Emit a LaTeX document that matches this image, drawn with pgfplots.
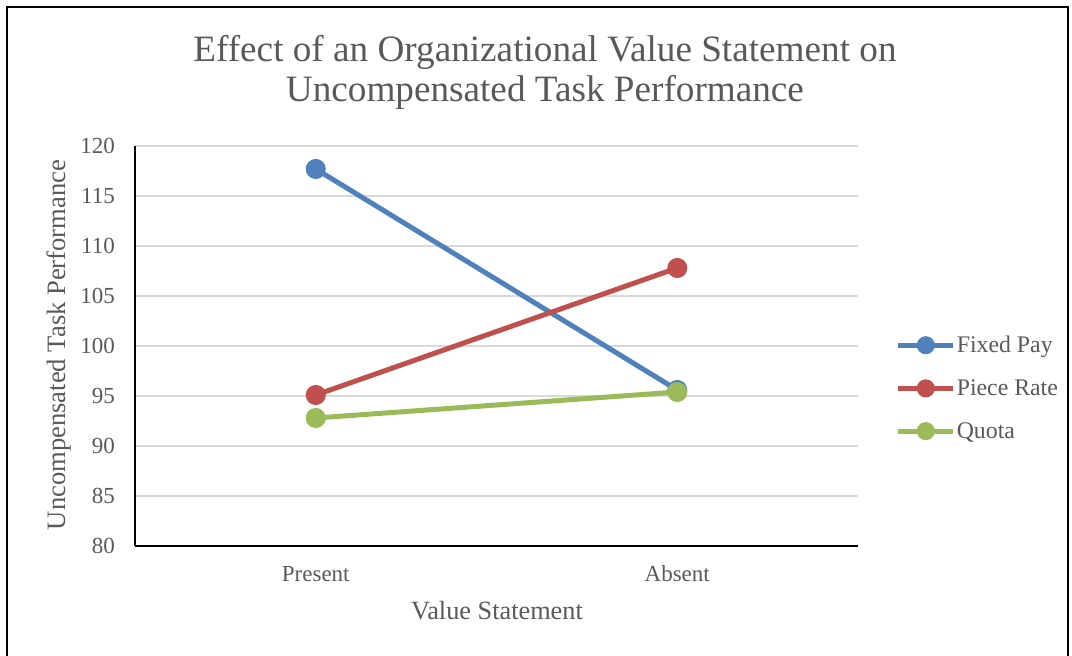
\documentclass[border=0pt]{standalone}
\usepackage{pgfplots}
\pgfplotsset{compat=1.18}
\usepackage{fontspec}
\setmainfont{Liberation Serif}
\definecolor{cblue}{HTML}{4F81BD}
\definecolor{cred}{HTML}{C0504D}
\definecolor{cgreen}{HTML}{9BBB59}
\definecolor{tgray}{HTML}{595959}
\definecolor{ggray}{HTML}{D9D9D9}
\begin{document}
\begin{tikzpicture}[x=1pt,y=1pt]
\useasboundingbox (-135,-110) rectangle (937,546);
\begin{scope}
\clip (-135,-110) rectangle (937,546);
\draw[line width=2pt,black] (-128,-200) rectangle (933,539);
\end{scope}
\begin{axis}[
  at={(0,0)}, anchor=south west,
  scale only axis, width=723pt, height=400pt,
  xmin=-0.5, xmax=1.5, ymin=80, ymax=120,
  xtick={0,1}, xticklabels={Present,Absent},
  ytick={80,85,...,120},
  axis x line*=bottom, axis y line*=left,
  axis line style={black, line width=1.3pt},
  x axis line style={-}, y axis line style={-},
  major tick length=0pt,
  ymajorgrids, grid style={ggray, line width=1.5pt},
  /pgf/number format/assume math mode=true,
  tick label style={font=\fontsize{23}{27}\selectfont, text=tgray},
  yticklabel style={anchor=east, inner sep=0pt, xshift=-20pt},
  xticklabel style={anchor=base, inner sep=0pt, yshift=-36pt},
  xlabel={Value Statement},
  ylabel={Uncompensated Task Performance},
  xlabel style={font=\fontsize{26.3}{30}\selectfont, text=tgray, anchor=base, inner sep=0pt, at={(axis description cs:0.5007,-0.185)}},
  ylabel style={font=\fontsize{26.6}{30}\selectfont, text=tgray, anchor=base, inner sep=0pt, rotate=0, at={(axis description cs:-0.0968,0.5025)}},
  title={Effect of an Organizational Value Statement on\\Uncompensated Task Performance},
  title style={font=\fontsize{37.2}{40}\selectfont, text=tgray, align=center, anchor=north, inner sep=0pt, at={(axis description cs:0.567,1.261)}},
  legend style={draw=none, fill=none, at={(axis description cs:1.052,0.395)}, anchor=west, inner sep=0pt,
    font=\fontsize{23.8}{27}\selectfont, text=tgray, row sep=23.5pt,
    nodes={inner sep=1pt}},
  legend cell align=left,
  legend image code/.code={\draw[#1, mark repeat=2, mark phase=2, mark size=6.5pt] plot coordinates {(0pt,0pt) (27.5pt,0pt) (55pt,0pt)};},
  every axis plot/.append style={line width=5pt, mark=*, mark size=7.5pt, mark options={solid}},
  clip=false,
]
\addplot[cblue, mark options={fill=cblue, draw=cblue}] coordinates {(0,117.7) (1,95.6)};
\addlegendentry{Fixed Pay}
\addplot[cred, mark options={fill=cred, draw=cred}] coordinates {(0,95.1) (1,107.8)};
\addlegendentry{Piece Rate}
\addplot[cgreen, mark options={fill=cgreen, draw=cgreen}] coordinates {(0,92.8) (1,95.4)};
\addlegendentry{Quota}
\end{axis}
\end{tikzpicture}
\end{document}
